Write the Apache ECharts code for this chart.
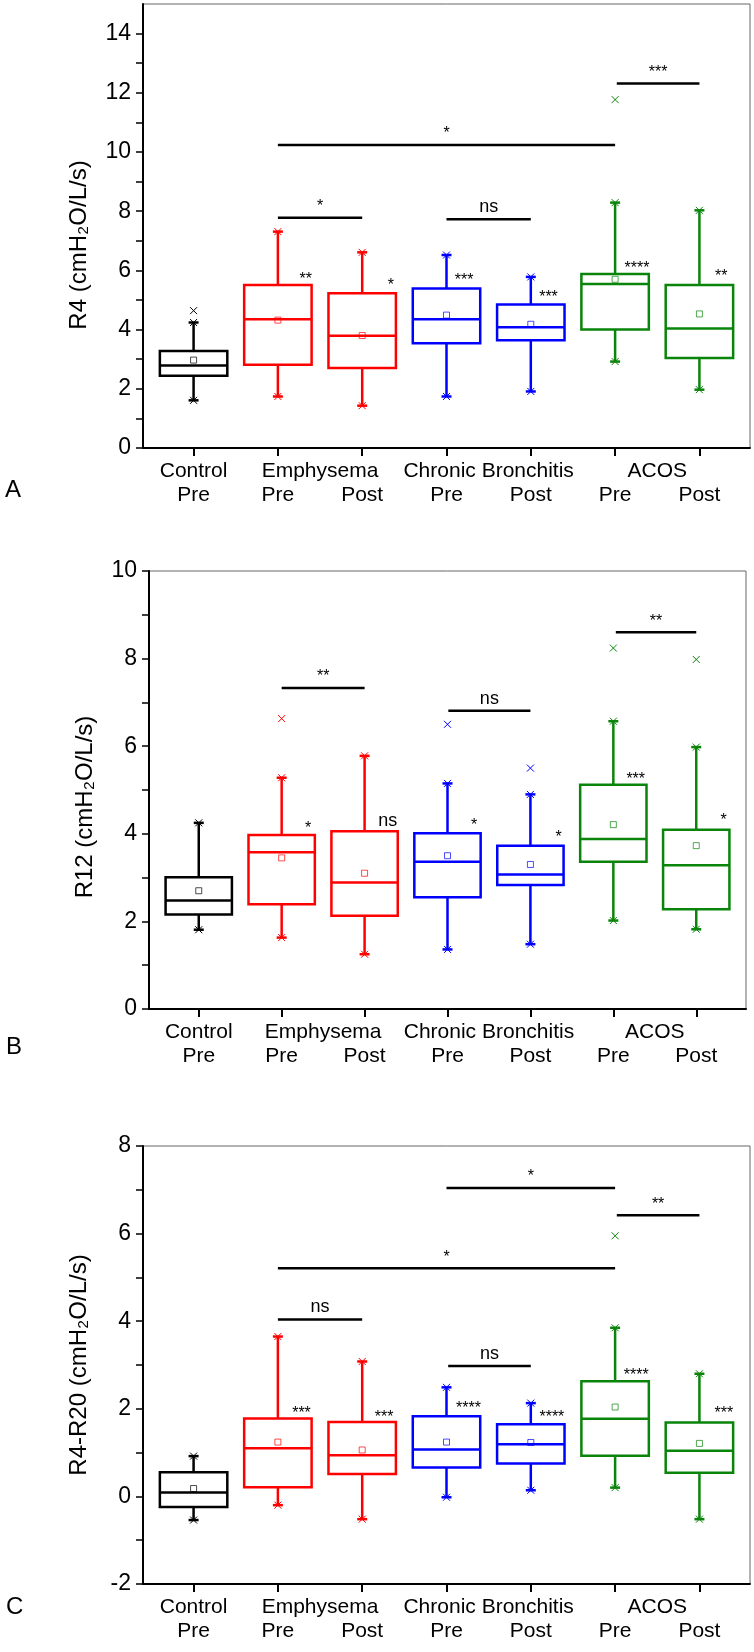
<!DOCTYPE html>
<html lang="en">
<head>
<meta charset="UTF-8">
<title>R4 / R12 / R4-R20 box plots</title>
<script src="https://cdn.jsdelivr.net/npm/echarts@6/dist/echarts.min.js"></script>
<style>
  html, body { margin: 0; padding: 0; background: #fff; }
  #chart_div { width: 754px; height: 1652px; }
</style>
</head>
<body>
<div id="chart_div"></div>
<script type="text/javascript">

// categories on the x axis (1..7)
var cats = [1, 2, 3, 4, 5, 6, 7];
var subLabels = ['Pre', 'Pre', 'Post', 'Pre', 'Post', 'Pre', 'Post'];
var groupNames = ['Control', 'Emphysema', 'Chronic Bronchitis', 'ACOS'];
var groupPos = [1, 2.5, 4.5, 6.5];

// panel A : R4
var aLow  = [1.61, 1.74, 1.43, 1.74, 1.91, 2.92, 1.97];
var aQ1   = [2.44, 2.81, 2.70, 3.54, 3.64, 4.00, 3.04];
var aMed  = [2.79, 4.35, 3.79, 4.35, 4.08, 5.54, 4.04];
var aQ3   = [3.28, 5.51, 5.23, 5.39, 4.85, 5.88, 5.51];
var aHigh = [4.24, 7.31, 6.61, 6.52, 5.78, 8.29, 8.03];
var aMean = [2.97, 4.32, 3.80, 4.49, 4.18, 5.70, 4.53];
var aOutliers = [[1, 4.64], [6, 11.77]];
var aStarText = ['**', '*', '***', '***', '****', '**'];
var aStarPos  = [[2.33, 5.84], [3.34, 5.61], [4.21, 5.78], [5.21, 5.21], [6.26, 6.21], [7.26, 5.93]];
var aSigText  = ['*', 'ns', '*', '***'];
var aSigLines = [[2, 3, 7.78], [4, 5, 7.73], [2, 6, 10.24], [6.02, 7, 12.31]];
var aTicks  = [0, 1, 2, 3, 4, 5, 6, 7, 8, 9, 10, 11, 12, 13, 14];
var aLabels = [0, 2, 4, 6, 8, 10, 12, 14];

// panel B : R12
var bLow  = [1.81, 1.63, 1.25, 1.36, 1.48, 2.02, 1.82];
var bQ1   = [2.16, 2.39, 2.13, 2.55, 2.83, 3.36, 2.28];
var bMed  = [2.48, 3.58, 2.89, 3.36, 3.07, 3.88, 3.28];
var bQ3   = [3.01, 3.97, 4.06, 4.01, 3.73, 5.12, 4.09];
var bHigh = [4.25, 5.28, 5.78, 5.15, 4.90, 6.57, 5.98];
var bMean = [2.70, 3.45, 3.10, 3.50, 3.30, 4.21, 3.73];
var bOutliers = [[2, 6.63], [4, 6.50], [5, 5.50], [6, 8.24], [7, 7.98]];
var bStarText = ['*', 'ns', '*', '*', '***', '*'];
var bStarPos  = [[2.32, 4.22], [3.28, 4.30], [4.32, 4.28], [5.34, 4.01], [6.27, 5.32], [7.33, 4.40]];
var bSigText  = ['**', 'ns', '**'];
var bSigLines = [[2, 3, 7.33], [4.01, 5, 6.81], [6.03, 7, 8.60]];
var bTicks  = [0, 1, 2, 3, 4, 5, 6, 7, 8, 9, 10];
var bLabels = [0, 2, 4, 6, 8, 10];

// panel C : R4-R20
var cLow  = [-0.54, -0.20, -0.52, -0.02, 0.14, 0.20, -0.52];
var cQ1   = [-0.24, 0.21, 0.51, 0.66, 0.75, 0.93, 0.54];
var cMed  = [0.09, 1.10, 0.94, 1.07, 1.19, 1.77, 1.04];
var cQ3   = [0.55, 1.78, 1.70, 1.83, 1.65, 2.63, 1.69];
var cHigh = [0.92, 3.65, 3.08, 2.49, 2.13, 3.85, 2.80];
var cMean = [0.18, 1.24, 1.06, 1.24, 1.23, 2.04, 1.21];
var cOutliers = [[6, 5.95]];
var cStarText = ['***', '***', '****', '****', '****', '***'];
var cStarPos  = [[2.28, 1.98], [3.26, 1.88], [4.26, 2.09], [5.25, 1.88], [6.25, 2.84], [7.29, 1.98]];
var cSigText  = ['ns', 'ns', '*', '*', '**'];
var cSigLines = [[2, 3, 4.04], [4.02, 5, 2.98], [2, 6, 5.21], [4, 6, 7.04], [6.02, 7, 6.42]];
var cTicks  = [-2, -1, 0, 1, 2, 3, 4, 5, 6, 7, 8];
var cLabels = [-2, 0, 2, 4, 6, 8];

var boxColors = ['#000000', '#ff0000', '#ff0000', '#0000ff', '#0000ff', '#0a840a', '#0a840a'];
var FONT = "'Liberation Sans', Arial, sans-serif";

function cross(cx, cy, r, color) {
    return [
        {type: 'line', shape: {x1: cx - r, y1: cy - r, x2: cx + r, y2: cy + r}, style: {stroke: color, lineWidth: 1}},
        {type: 'line', shape: {x1: cx - r, y1: cy + r, x2: cx + r, y2: cy - r}, style: {stroke: color, lineWidth: 1}}
    ];
}

function renderBox(params, api) {
    var x = api.value(0);
    var lo = api.coord([x, api.value(1)]);
    var q1 = api.coord([x, api.value(2)]);
    var md = api.coord([x, api.value(3)]);
    var q3 = api.coord([x, api.value(4)]);
    var hi = api.coord([x, api.value(5)]);
    var mn = api.coord([x, api.value(6)]);
    var hw = api.size([0.8, 0])[0] / 2;
    var cx = md[0];
    var c = boxColors[params.dataIndex];
    var s = {stroke: c, lineWidth: 2.5, fill: 'none'};
    var kids = [
        {type: 'rect', shape: {x: cx - hw, y: q3[1], width: hw * 2, height: q1[1] - q3[1]}, style: s},
        {type: 'line', shape: {x1: cx - hw, y1: md[1], x2: cx + hw, y2: md[1]}, style: s},
        {type: 'line', shape: {x1: cx, y1: q3[1], x2: cx, y2: hi[1]}, style: s},
        {type: 'line', shape: {x1: cx, y1: q1[1], x2: cx, y2: lo[1]}, style: s},
        {type: 'line', shape: {x1: cx - 5, y1: hi[1], x2: cx + 5, y2: hi[1]}, style: s},
        {type: 'line', shape: {x1: cx - 5, y1: lo[1], x2: cx + 5, y2: lo[1]}, style: s},
        {type: 'rect', shape: {x: cx - 3, y: mn[1] - 3, width: 6, height: 6}, style: {stroke: c, lineWidth: 1, fill: 'none', opacity: 0.7}}
    ];
    return {type: 'group', children: kids.concat(cross(cx, hi[1], 3.5, c), cross(cx, lo[1], 3.5, c))};
}

function renderOutlier(params, api) {
    var p = api.coord([api.value(0), api.value(1)]);
    var c = boxColors[api.value(0) - 1];
    return {type: 'group', children: cross(p[0], p[1], 3.5, c)};
}

function textEl(t, x, y) {
    var star = t.charAt(0) === '*';
    var fs = star ? 16 : 18;
    return {
        type: 'text', x: x, y: y + (star ? 4 : 0),
        style: {text: t, font: fs + 'px ' + FONT, fill: '#000',
            align: 'center', verticalAlign: 'middle', textAlign: 'center', textVerticalAlign: 'middle'}
    };
}

function makeStarRender(texts) {
    return function (params, api) {
        var p = api.coord([api.value(0), api.value(1)]);
        return textEl(texts[params.dataIndex], p[0], p[1]);
    };
}

function makeSigRender(texts) {
    return function (params, api) {
        var a = api.coord([api.value(0), api.value(2)]);
        var b = api.coord([api.value(1), api.value(2)]);
        var t = texts[params.dataIndex];
        var star = t.charAt(0) === '*';
        return {type: 'group', children: [
            {type: 'line', shape: {x1: a[0], y1: a[1], x2: b[0], y2: b[1]}, style: {stroke: '#000', lineWidth: 2.5}},
            textEl(t, (a[0] + b[0]) / 2, a[1] - (star ? 15 : 12))
        ]};
    };
}

var panels = [
    {name: 'R4 (cmH\u2082O/L/s)', min: 0, max: 15, ticks: aTicks, labels: aLabels, pad: 38,
     grid: {left: 143, top: 4, width: 607, height: 444},
     low: aLow, q1: aQ1, med: aMed, q3: aQ3, high: aHigh, mean: aMean,
     outliers: aOutliers, starText: aStarText, starPos: aStarPos, sigText: aSigText, sigLines: aSigLines},
    {name: 'R12 (cmH\u2082O/L/s)', min: 0, max: 10, ticks: bTicks, labels: bLabels, pad: 34,
     grid: {left: 149, top: 571, width: 597, height: 438},
     low: bLow, q1: bQ1, med: bMed, q3: bQ3, high: bHigh, mean: bMean,
     outliers: bOutliers, starText: bStarText, starPos: bStarPos, sigText: bSigText, sigLines: bSigLines},
    {name: 'R4-R20 (cmH\u2082O/L/s)', min: -2, max: 8, ticks: cTicks, labels: cLabels, pad: 0,
     grid: {left: 143, top: 1146, width: 607, height: 438},
     low: cLow, q1: cQ1, med: cMed, q3: cQ3, high: cHigh, mean: cMean,
     outliers: cOutliers, starText: cStarText, starPos: cStarPos, sigText: cSigText, sigLines: cSigLines}
];

var grids = [], xAxes = [], yAxes = [], series = [];
panels.forEach(function (p, i) {
    grids.push({left: p.grid.left, top: p.grid.top, width: p.grid.width, height: p.grid.height,
        show: true, borderColor: '#666', borderWidth: 1});
    // main x axis : ticks at each category, group names on the first row
    xAxes.push({
        gridIndex: i, type: 'value', min: 0.4, max: 7.6, position: 'bottom',
        axisLine: {show: true, onZero: false, lineStyle: {color: '#000', width: 2}},
        axisTick: {show: true, customValues: cats, length: 8, lineStyle: {color: '#000', width: 2}},
        axisLabel: {customValues: groupPos, margin: 13, color: '#000', fontSize: 21, fontFamily: FONT,
            formatter: function (v) { return groupNames[groupPos.indexOf(v)]; }},
        splitLine: {show: false}
    });
    // second row : Pre / Post
    xAxes.push({
        gridIndex: i, type: 'value', min: 0.4, max: 7.6, position: 'bottom',
        axisLine: {show: false, onZero: false}, axisTick: {show: false},
        axisLabel: {customValues: cats, margin: 37, color: '#000', fontSize: 21, fontFamily: FONT,
            formatter: function (v) { return subLabels[v - 1]; }},
        splitLine: {show: false}
    });
    yAxes.push({
        gridIndex: i, type: 'value', min: p.min, max: p.max,
        name: p.name, nameLocation: 'middle', nameGap: 52, nameRotate: 90,
        nameTextStyle: {fontSize: 24, color: '#000', fontFamily: FONT, padding: [0, p.pad, 0, 0]},
        axisLine: {show: true, onZero: false, lineStyle: {color: '#000', width: 2}},
        axisTick: {show: true, customValues: p.ticks, length: 7, lineStyle: {color: '#000', width: 1.5}},
        axisLabel: {customValues: p.labels, margin: 12, color: '#000', fontSize: 23, fontFamily: FONT},
        splitLine: {show: false}
    });

    var boxData = cats.map(function (c, k) {
        return [c, p.low[k], p.q1[k], p.med[k], p.q3[k], p.high[k], p.mean[k]];
    });
    series.push({type: 'custom', xAxisIndex: 2 * i, yAxisIndex: i, renderItem: renderBox, data: boxData});
    series.push({type: 'custom', xAxisIndex: 2 * i, yAxisIndex: i, renderItem: renderOutlier, data: p.outliers});
    series.push({type: 'custom', xAxisIndex: 2 * i, yAxisIndex: i, renderItem: makeStarRender(p.starText), data: p.starPos});
    series.push({type: 'custom', xAxisIndex: 2 * i, yAxisIndex: i, renderItem: makeSigRender(p.sigText), data: p.sigLines});
});

var chart = echarts.init(document.getElementById('chart_div'));
chart.setOption({
    animation: false,
    backgroundColor: '#fff',
    grid: grids,
    xAxis: xAxes,
    yAxis: yAxes,
    series: series,
    graphic: [
        {type: 'text', left: 5, top: 478, style: {text: 'A', font: '24px ' + FONT, fill: '#000'}},
        {type: 'text', left: 6, top: 1035, style: {text: 'B', font: '24px ' + FONT, fill: '#000'}},
        {type: 'text', left: 6, top: 1595, style: {text: 'C', font: '24px ' + FONT, fill: '#000'}}
    ]
});

</script>
</body>
</html>
